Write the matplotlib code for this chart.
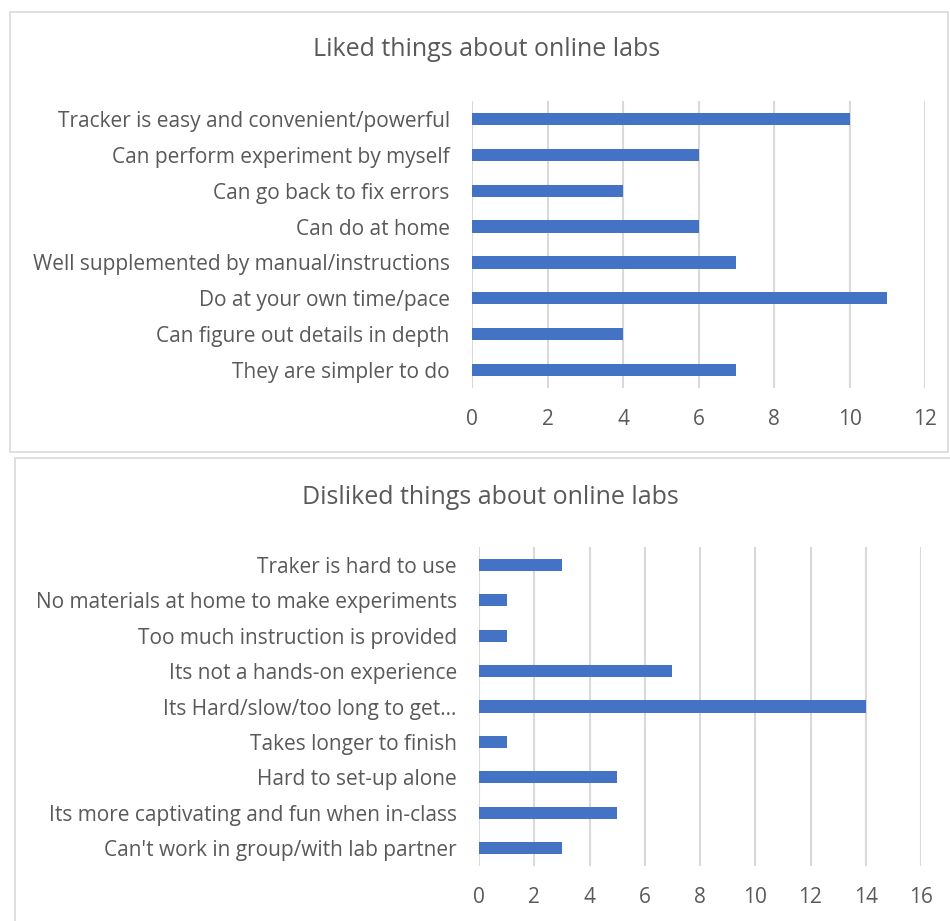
import matplotlib.pyplot as plt
from matplotlib.patches import Rectangle

# Survey answers, listed top to bottom as they appear on each chart
liked_labels = [
    "Tracker is easy and convenient/powerful",
    "Can perform experiment by myself",
    "Can go back to fix errors",
    "Can do at home",
    "Well supplemented by manual/instructions",
    "Do at your own time/pace",
    "Can figure out details in depth",
    "They are simpler to do",
]
liked_counts = [10, 6, 4, 6, 7, 11, 4, 7]

disliked_labels = [
    "Traker is hard to use",
    "No materials at home to make experiments",
    "Too much instruction is provided",
    "Its not a hands-on experience",
    "Its Hard/slow/too long to get\u2026",
    "Takes longer to finish",
    "Hard to set-up alone",
    "Its more captivating and fun when in-class",
    "Can't work in group/with lab partner",
]
disliked_counts = [3, 1, 1, 7, 14, 1, 5, 5, 3]

liked_ticks = [0, 2, 4, 6, 8, 10, 12]
disliked_ticks = [0, 2, 4, 6, 8, 10, 12, 14, 16]

W, H = 950, 921
BAR = "#4472C4"
TEXT = "#595959"
GRID = "#D9D9D9"

plt.rcParams["font.family"] = ["Open Sans", "DejaVu Sans"]

fig = plt.figure(figsize=(W / 100, H / 100), dpi=100)


def px_axes(x0, y0, x1, y1):
    # axes placed by pixel box (top-left origin)
    return fig.add_axes([x0 / W, 1 - y1 / H, (x1 - x0) / W, (y1 - y0) / H])


def frame(x0, y0, x1, y1):
    fig.patches.append(Rectangle((x0 / W, 1 - y1 / H), (x1 - x0) / W, (y1 - y0) / H,
                                 transform=fig.transFigure, fill=False,
                                 edgecolor=GRID, lw=1.2))


def bar_chart(ax, labels, counts, ticks, title, title_xy):
    n = len(labels)
    pos = list(range(n))[::-1]
    ax.barh(pos, counts, height=0.34, color=BAR, zorder=3)
    ax.set_ylim(-0.5, n - 0.5)
    ax.set_xlim(ticks[0], ticks[-1])
    ax.set_xticks(ticks)
    ax.set_yticks(pos)
    ax.set_yticklabels(labels)
    ax.grid(axis="x", color=GRID, lw=1.5, zorder=0)
    for s in ax.spines.values():
        s.set_visible(False)
    ax.tick_params(axis="both", length=0, colors=TEXT, labelsize=15)
    ax.tick_params(axis="y", pad=16)
    ax.tick_params(axis="x", pad=15)
    fig.text(title_xy[0] / W, 1 - title_xy[1] / H, title, ha="center", va="center",
             fontsize=18, color=TEXT)


frame(10, 12, 948, 452)
frame(15, 458, 960, 930)

ax1 = px_axes(472, 101, 925, 388)
bar_chart(ax1, liked_labels, liked_counts, liked_ticks,
          "Liked things about online labs", (487, 50))

ax2 = px_axes(479, 547, 921, 866)
bar_chart(ax2, disliked_labels, disliked_counts, disliked_ticks,
          "Disliked things about online labs", (490, 497))

fig.savefig("out.png", dpi=100)
